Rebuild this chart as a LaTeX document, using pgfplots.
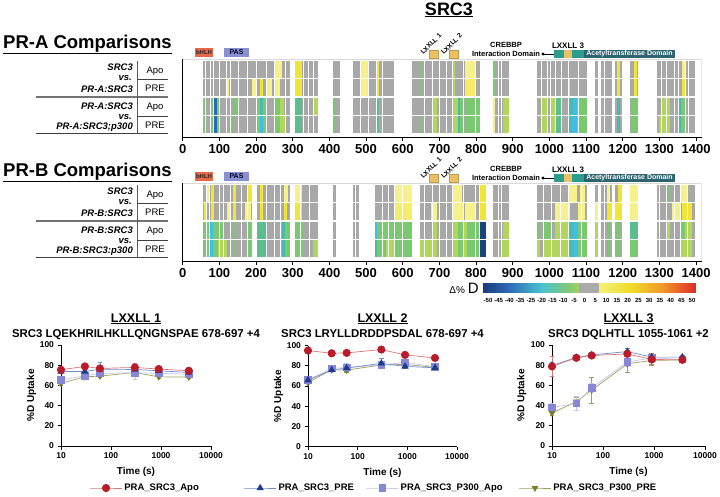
\documentclass[border=0pt]{standalone}
\usepackage{pgfplots}
\pgfplotsset{compat=1.18}
\usepackage{fontspec}
\setmainfont{Liberation Sans}
\newcommand\fs[1]{\fontsize{#1}{#1}\selectfont}
% heatmap colours
\definecolor{hg}{RGB}{168,168,168}
\definecolor{hly}{RGB}{246,241,140}
\definecolor{hym}{RGB}{245,237,105}
\definecolor{hy}{RGB}{241,230,55}
\definecolor{hgr}{RGB}{122,200,112}
\definecolor{hlg}{RGB}{176,214,92}
\definecolor{htg}{RGB}{92,190,140}
\definecolor{htl}{RGB}{72,186,178}
\definecolor{hcy}{RGB}{62,190,232}
\definecolor{hbl}{RGB}{40,105,185}
\definecolor{hdb}{RGB}{24,68,128}
% annotation colours
\definecolor{cbhlh}{RGB}{232,104,74}
\definecolor{cpas}{RGB}{138,143,208}
\definecolor{ctan}{RGB}{235,192,98}
\definecolor{cteal}{RGB}{42,157,143}
\definecolor{cdark}{RGB}{44,100,112}
% plot colours
\definecolor{apoM}{RGB}{185,28,40}
\definecolor{apoL}{RGB}{220,120,120}
\definecolor{preM}{RGB}{30,60,140}
\definecolor{preL}{RGB}{110,140,205}
\definecolor{paM}{RGB}{135,135,215}
\definecolor{paL}{RGB}{195,198,242}
\definecolor{ppM}{RGB}{125,125,35}
\definecolor{ppL}{RGB}{160,160,90}

\pgfplotsset{/pgf/number format/assume math mode=true, /pgf/number format/1000 sep={},
 sapo/.style={apoL, line width=0.7pt, mark=*, mark size=3.7pt, mark options={draw=apoM, fill=apoM, solid}},
 spre/.style={preL, line width=0.7pt, mark=triangle*, mark size=3.5pt, mark options={draw=preM, fill=preM, solid}},
 spa/.style={paL, line width=0.7pt, mark=square*, mark size=3.3pt, mark options={draw=paM, fill=paM, solid}},
 spp/.style={ppL, line width=0.7pt, mark=triangle*, mark size=3.2pt, mark options={draw=ppM, fill=ppM, solid, rotate=180}},
 eb/.style={error bars/y dir=both, error bars/y explicit, error bars/error bar style={line width=0.6pt}, error bars/error mark options={rotate=90, mark size=2.2pt, line width=0.6pt}},
 heat/.style={anchor=south west, scale only axis, width=518.9pt, height=77.9pt,
   xmin=0, xmax=1415, ymin=0.34, ymax=4.55, axis lines=left, axis line style={-, line width=0.8pt},
   xtick={0,100,...,1400}, ytick=\empty, tick align=outside, major tick length=4pt,
   xtick style={line width=0.8pt, black}, xticklabel style={font=\bfseries\fs{13}}},
 bot/.style={anchor=south west, scale only axis, height=101pt, xmin=10, xmax=10000,
   ymin=0, ymax=100, axis lines=left, axis line style={-, line width=0.8pt}, tick align=outside,
   xtick={10,100,1000,10000}, xticklabels={10,100,1000,10000}, ytick={0,20,...,100},
   major tick length=3.5pt, tick style={black, line width=0.8pt}, xminorticks=false,
   tick label style={font=\bfseries\fs{8.5}}, clip=false,
   xlabel={Time (s)}, ylabel={\%D Uptake}, label style={font=\bfseries\fs{10}},
   xlabel style={at={(axis description cs:0.5,-0.257)}, anchor=center},
   ylabel style={at={(axis description cs:-0.197,0.5)}, anchor=center}},
}
\newcommand\COV[2]{\addplot[fill=hg,draw=none,forget plot] coordinates {(#1,0.545) (#2,0.545) (#2,4.455) (#1,4.455)};}
\newcommand\RA[3]{\addplot[fill=#3,draw=none,forget plot] coordinates {(#1,3.545) (#2,3.545) (#2,4.455) (#1,4.455)};}
\newcommand\RB[3]{\addplot[fill=#3,draw=none,forget plot] coordinates {(#1,2.545) (#2,2.545) (#2,3.455) (#1,3.455)};}
\newcommand\RC[3]{\addplot[fill=#3,draw=none,forget plot] coordinates {(#1,1.545) (#2,1.545) (#2,2.455) (#1,2.455)};}
\newcommand\RD[3]{\addplot[fill=#3,draw=none,forget plot] coordinates {(#1,0.545) (#2,0.545) (#2,1.455) (#1,1.455)};}
\newcommand\SEP[1]{\addplot[white,line width=0.6pt,forget plot] coordinates {(#1,0.5) (#1,4.5)};}
\newcommand\HGAPS{\addplot[white,line width=1.7pt,forget plot] coordinates {(0,1.5) (1415,1.5)};
 \addplot[white,line width=1.7pt,forget plot] coordinates {(0,2.5) (1415,2.5)};
 \addplot[white,line width=1.7pt,forget plot] coordinates {(0,3.5) (1415,3.5)};
 \draw[black!15,line width=0.5pt] (rel axis cs:0,1) -- (rel axis cs:1,1) -- (rel axis cs:1,0);}

\newcommand\leftblock[3]{%
\begin{scope}[yshift=-#1pt]
 \node[anchor=east,inner sep=0pt,font=\bfseries\itshape\fs{9.5}] at (133pt,-67pt) {SRC3};
 \node[anchor=east,inner sep=0pt,font=\bfseries\itshape\fs{9.5}] at (132pt,-78pt) {vs.};
 \node[anchor=east,inner sep=0pt,font=\bfseries\itshape\fs{9.5}] at (133pt,-89pt) {#2};
 \draw[black!55,line width=1.4pt] (36pt,-97pt) -- (168pt,-97pt);
 \node[anchor=east,inner sep=0pt,font=\bfseries\itshape\fs{9.5}] at (133pt,-106pt) {#2};
 \node[anchor=east,inner sep=0pt,font=\bfseries\itshape\fs{9.5}] at (132pt,-117pt) {vs.};
 \node[anchor=east,inner sep=0pt,font=\bfseries\itshape\fs{9.5}] at (133pt,-127pt) {#3};
 \draw[black!75,line width=0.9pt] (36pt,-133.5pt) -- (168pt,-133.5pt);
 \draw[black!65,line width=0.9pt] (137pt,-61pt) -- (137pt,-133.5pt);
 \draw[black!75,line width=0.7pt] (137pt,-79.5pt) -- (168pt,-79.5pt);
 \draw[black!75,line width=0.7pt] (137pt,-116pt) -- (168pt,-116pt);
 \node[font=\fs{9.5}] at (155pt,-71pt) {Apo};
 \node[font=\fs{9.5}] at (155pt,-88pt) {PRE};
 \node[font=\fs{9.5}] at (155pt,-107pt) {Apo};
 \node[font=\fs{9.5}] at (155pt,-125pt) {PRE};
\end{scope}}

\newcommand\annot[1]{%
\begin{scope}[yshift=-#1pt]
 \fill[cbhlh] (195pt,-48pt) rectangle (213pt,-57pt);
 \node[font=\bfseries\fs{6}, text=black!85, inner sep=0pt] at (204pt,-52.5pt) {bHLH};
 \fill[cpas] (224pt,-48pt) rectangle (249pt,-57pt);
 \node[font=\bfseries\fs{7}, text=black!85!blue, inner sep=0pt] at (236.5pt,-52.5pt) {PAS};
 \filldraw[fill=ctan, draw=ctan!80!black, line width=0.3pt] (429pt,-50pt) rectangle (438pt,-58pt);
 \filldraw[fill=ctan, draw=ctan!80!black, line width=0.3pt] (449pt,-50pt) rectangle (458pt,-58pt);
 \node[rotate=45, font=\bfseries\fs{6.6}, inner sep=0pt] at (431pt,-44pt) {LXXLL 1};
 \node[rotate=45, font=\bfseries\fs{6.6}, inner sep=0pt] at (451.5pt,-44pt) {LXXLL 2};
 \node[align=center, font=\bfseries\fontsize{7.5}{9}\selectfont, inner sep=0pt] at (506pt,-49.5pt) {CREBBP\\Interaction Domain};
 \fill (543pt,-54pt) circle (1.6pt);
 \draw[line width=0.7pt] (543pt,-54pt) -- (555pt,-54pt);
 \fill[cteal] (554pt,-50pt) rectangle (584pt,-58pt);
 \fill[ctan] (564pt,-50pt) rectangle (572pt,-58pt);
 \fill[cdark] (584pt,-50pt) rectangle (675pt,-58pt);
 \node[text=white, font=\bfseries\fs{7}, inner sep=0pt] at (629.5pt,-54pt) {Acetyltransferase Domain};
 \node[font=\bfseries\fs{8}, inner sep=0pt] at (568pt,-45.5pt) {LXXLL 3};
\end{scope}}

\begin{document}
\begin{tikzpicture}
\path[use as bounding box] (0pt,0pt) rectangle (720pt,-496pt);

% titles
\node[anchor=base, font=\bfseries\fs{18}, inner sep=0pt] at (449pt,-15pt) {\underline{SRC3}};
\node[anchor=base west, font=\bfseries\fs{18.5}, inner sep=0pt] at (3pt,-48pt) {\underline{PR-A Comparisons}};
\node[anchor=base west, font=\bfseries\fs{18.5}, inner sep=0pt] at (3pt,-176pt) {\underline{PR-B Comparisons}};

\leftblock{0}{PR-A:SRC3}{PR-A:SRC3;p300}
\leftblock{124}{PR-B:SRC3}{PR-B:SRC3:p300}
\annot{0}
\annot{124}

% ---------------- Heatmap PR-A ----------------
\begin{axis}[heat, at={(182.7pt,-137pt)}]
\COV{55}{293}\COV{306}{370}\COV{411}{429}\COV{464}{575}\COV{625}{811}\COV{847}{890}
\COV{965}{1102}\COV{1124}{1133}\COV{1142}{1170}\COV{1179}{1197}\COV{1220}{1242}\COV{1293}{1397}
% row 1
\RA{252}{270}{hly}\RA{306}{325}{hy}\RA{484}{506}{hly}\RA{527}{536}{hy}\RA{646}{648}{hgr}
\RA{736}{742}{hlg}\RA{770}{797}{hly}\RA{847}{852}{hgr}\RA{1185}{1193}{hy}\RA{1231}{1240}{hy}\RA{1361}{1372}{hly}
% row 2
\RB{120}{127}{hly}\RB{188}{200}{hly}\RB{211}{220}{hy}\RB{231}{243}{hly}\RB{252}{265}{hly}
\RB{306}{325}{hy}\RB{484}{506}{hly}\RB{527}{536}{hy}\RB{646}{648}{hgr}\RB{736}{742}{hlg}
\RB{770}{797}{hym}\RB{847}{852}{hgr}\RB{1052}{1056}{hy}\RB{1185}{1193}{hy}\RB{1231}{1240}{hy}\RB{1361}{1372}{hy}
% row 3
\RC{55}{64}{hgr}\RC{76}{84}{hgr}\RC{84}{93}{hbl}\RC{93}{100}{hgr}\RC{138}{152}{hgr}
\RC{202}{211}{hgr}\RC{211}{218}{htl}\RC{218}{227}{hgr}\RC{252}{265}{hgr}\RC{265}{276}{hlg}
\RC{306}{325}{htg}\RC{355}{368}{hlg}\RC{411}{418}{hgr}\RC{527}{536}{htg}\RC{679}{693}{hlg}
\RC{736}{750}{hlg}\RC{750}{756}{htl}\RC{756}{766}{hgr}\RC{770}{811}{hgr}\RC{847}{852}{hly}
\RC{874}{890}{hlg}\RC{979}{993}{hlg}\RC{1002}{1015}{hlg}\RC{1015}{1033}{htg}\RC{1052}{1065}{htl}
\RC{1065}{1076}{hcy}\RC{1076}{1102}{hgr}\RC{1185}{1193}{htl}\RC{1225}{1242}{hgr}\RC{1306}{1329}{hlg}
\RC{1352}{1358}{htl}\RC{1358}{1370}{hgr}
% row 4
\RD{55}{64}{hgr}\RD{76}{84}{hgr}\RD{84}{93}{hbl}\RD{93}{100}{hgr}\RD{129}{138}{hgr}
\RD{202}{211}{hgr}\RD{211}{218}{hcy}\RD{218}{227}{hgr}\RD{252}{265}{hgr}\RD{265}{279}{hlg}
\RD{306}{325}{htg}\RD{411}{418}{hgr}\RD{527}{536}{htg}\RD{646}{648}{hgr}\RD{679}{693}{hlg}
\RD{736}{750}{hlg}\RD{750}{756}{htl}\RD{756}{766}{hgr}\RD{770}{811}{hgr}\RD{847}{852}{hly}
\RD{874}{890}{hlg}\RD{979}{993}{hlg}\RD{1002}{1015}{hlg}\RD{1015}{1033}{htg}\RD{1052}{1062}{htl}
\RD{1062}{1076}{hcy}\RD{1076}{1102}{hgr}\RD{1185}{1193}{htl}\RD{1225}{1242}{hgr}\RD{1300}{1329}{hlg}
\RD{1352}{1358}{htl}\RD{1358}{1370}{hgr}
% separators
\SEP{62}\SEP{76}\SEP{84}\SEP{100}\SEP{120}\SEP{129}\SEP{152}\SEP{175}\SEP{202}\SEP{227}
\SEP{250}\SEP{279}\SEP{330}\SEP{343}\SEP{355}\SEP{484}\SEP{506}\SEP{527}\SEP{545}\SEP{660}
\SEP{680}\SEP{700}\SEP{720}\SEP{736}\SEP{765}\SEP{797}\SEP{860}\SEP{870}\SEP{979}\SEP{993}
\SEP{1002}\SEP{1015}\SEP{1033}\SEP{1052}\SEP{1080}\SEP{1150}\SEP{1306}\SEP{1320}\SEP{1340}
\SEP{1352}\SEP{1370}\SEP{1380}
\HGAPS
\end{axis}

% ---------------- Heatmap PR-B ----------------
\begin{axis}[heat, at={(182.7pt,-261pt)}]
\COV{55}{188}\COV{202}{293}\COV{306}{370}\COV{411}{418}\COV{464}{482}\COV{525}{575}\COV{579}{625}
\COV{647}{827}\COV{847}{890}\COV{965}{1102}\COV{1124}{1133}\COV{1142}{1170}\COV{1179}{1199}
\COV{1220}{1242}\COV{1293}{1397}
% row 1
\RA{66}{73}{hly}\RA{76}{84}{hy}\RA{138}{145}{hy}\RA{179}{188}{hy}\RA{211}{220}{hy}\RA{275}{288}{hly}
\RA{306}{325}{hly}\RA{579}{625}{hly}\RA{736}{761}{hly}\RA{811}{827}{hy}\RA{1052}{1075}{hly}
\RA{1083}{1097}{hly}\RA{1156}{1165}{hly}\RA{1188}{1197}{hy}\RA{1220}{1242}{hly}\RA{1320}{1329}{hgr}
\RA{1356}{1374}{hly}
% row 2
\RB{58}{64}{hy}\RB{76}{84}{hy}\RB{120}{129}{hly}\RB{138}{145}{hy}\RB{170}{185}{hly}\RB{211}{220}{hy}
\RB{275}{284}{hy}\RB{306}{325}{hy}\RB{579}{625}{hym}\RB{677}{693}{hly}\RB{736}{765}{hly}
\RB{770}{797}{hly}\RB{811}{827}{hy}\RB{1015}{1056}{hly}\RB{1079}{1097}{hly}\RB{1124}{1133}{hly}
\RB{1156}{1170}{hy}\RB{1179}{1197}{hy}\RB{1220}{1242}{hly}\RB{1333}{1356}{hly}\RB{1361}{1388}{hy}
% row 3
\RC{55}{75}{hgr}\RC{75}{82}{hcy}\RC{82}{111}{hgr}\RC{138}{145}{hgr}\RC{175}{188}{hgr}
\RC{202}{229}{htg}\RC{270}{280}{htl}\RC{280}{293}{hgr}\RC{306}{329}{hgr}\RC{525}{529}{hcy}
\RC{529}{575}{hgr}\RC{579}{625}{hgr}\RC{679}{693}{hlg}\RC{736}{752}{hlg}\RC{752}{765}{hgr}
\RC{765}{774}{hlg}\RC{774}{809}{hgr}\RC{811}{827}{hdb}\RC{874}{890}{hlg}\RC{965}{974}{hgr}
\RC{983}{1006}{hgr}\RC{1015}{1052}{hlg}\RC{1052}{1065}{htl}\RC{1065}{1079}{hcy}\RC{1079}{1102}{hgr}
\RC{1124}{1133}{hlg}\RC{1156}{1165}{hgr}\RC{1179}{1193}{hgr}\RC{1220}{1242}{htg}\RC{1320}{1329}{hlg}
\RC{1356}{1370}{hgr}\RC{1370}{1388}{hlg}
% row 4
\RD{55}{75}{hgr}\RD{75}{82}{hcy}\RD{82}{97}{hgr}\RD{97}{120}{hlg}\RD{138}{145}{hgr}\RD{175}{188}{hgr}
\RD{202}{229}{htg}\RD{270}{280}{htl}\RD{280}{293}{hgr}\RD{306}{329}{hgr}\RD{355}{370}{hlg}
\RD{525}{531}{htl}\RD{531}{555}{hgr}\RD{555}{575}{hlg}\RD{579}{625}{hgr}\RD{647}{693}{hlg}
\RD{736}{752}{hlg}\RD{752}{765}{hgr}\RD{765}{774}{hlg}\RD{774}{809}{hgr}\RD{811}{827}{hdb}
\RD{870}{890}{hlg}\RD{965}{974}{hlg}\RD{983}{1015}{hlg}\RD{1015}{1052}{hlg}\RD{1052}{1065}{htl}
\RD{1065}{1079}{hcy}\RD{1079}{1102}{hgr}\RD{1124}{1133}{hlg}\RD{1156}{1165}{hgr}\RD{1179}{1193}{hgr}
\RD{1220}{1242}{hgr}\RD{1356}{1388}{hlg}
% separators
\SEP{64}\SEP{73}\SEP{100}\SEP{111}\SEP{129}\SEP{160}\SEP{175}\SEP{229}\SEP{250}\SEP{265}
\SEP{320}\SEP{345}\SEP{470}\SEP{545}\SEP{560}\SEP{600}\SEP{660}\SEP{680}\SEP{700}\SEP{720}
\SEP{736}\SEP{765}\SEP{797}\SEP{809}\SEP{860}\SEP{870}\SEP{983}\SEP{1006}\SEP{1030}\SEP{1052}
\SEP{1088}\SEP{1150}\SEP{1300}\SEP{1320}\SEP{1340}\SEP{1356}\SEP{1375}
\HGAPS
\end{axis}

% ---------------- colour bar ----------------
\node[inner sep=0pt] at (464pt,-288pt) {{\fs{10}Δ\%} {\fs{15}D}};
\begin{axis}[at={(483pt,-292pt)}, anchor=south west, scale only axis, width=212pt, height=9pt,
  xmin=0, xmax=100, ymin=0, ymax=1, hide axis,
  colormap={dhx}{rgb255(0pt)=(25,60,125) rgb255(12pt)=(45,105,180) rgb255(28pt)=(75,195,205)
    rgb255(40pt)=(130,200,120) rgb255(45.4pt)=(165,210,100) rgb255(45.5pt)=(170,170,170)
    rgb255(54.5pt)=(170,170,170) rgb255(54.6pt)=(245,240,120) rgb255(70pt)=(240,220,40)
    rgb255(85pt)=(240,150,40) rgb255(100pt)=(220,45,40)},
  point meta min=0, point meta max=100]
\addplot[surf, shader=interp, point meta=x, mesh/rows=2] coordinates {
 (0,0) (12,0) (28,0) (40,0) (45.4,0) (45.5,0) (54.5,0) (54.6,0) (70,0) (85,0) (100,0)
 (0,1) (12,1) (28,1) (40,1) (45.4,1) (45.5,1) (54.5,1) (54.6,1) (70,1) (85,1) (100,1)};
\end{axis}
\foreach \l [count=\i from 0] in {-50,-45,-40,-35,-25,-20,-15,-10,-5,0,5,10,15,20,25,30,35,40,45,50}
 {\node[font=\bfseries\fs{6}, inner sep=0pt] at ({488pt+10.74pt*\i},-300pt) {\l};}

% ---------------- uptake plots ----------------
\node[anchor=base, font=\bfseries\fs{12.5}, inner sep=0pt] at (136pt,-322pt) {\underline{LXXLL 1}};
\node[anchor=base, font=\bfseries\fs{11.4}, inner sep=0pt] at (136pt,-337pt) {SRC3 LQEKHRILHKLLQNGNSPAE 678-697 +4};
\node[anchor=base, font=\bfseries\fs{12.5}, inner sep=0pt] at (382.5pt,-322pt) {\underline{LXXLL 2}};
\node[anchor=base, font=\bfseries\fs{11.4}, inner sep=0pt] at (382.5pt,-337pt) {SRC3 LRYLLDRDDPSDAL 678-697 +4};
\node[anchor=base, font=\bfseries\fs{12.5}, inner sep=0pt] at (628.5pt,-322pt) {\underline{LXXLL 3}};
\node[anchor=base, font=\bfseries\fs{11.4}, inner sep=0pt] at (628.5pt,-337pt) {SRC3 DQLHTLL 1055-1061 +2};

\begin{axis}[xmode=log, bot, at={(61pt,-446pt)}, width=150pt]
\addplot[spp, eb] coordinates {(10,62)+-(0,1.5) (30,68.5)+-(0,1.5) (60,69.2)+-(0,1.5) (300,72.8)+-(0,2) (900,68.5)+-(0,1.5) (3600,68.2)+-(0,1.5)};
\addplot[spa, eb] coordinates {(10,65.5)+-(0,2) (30,69.5)+-(0,1.5) (60,71.9)+-(0,2) (300,72.5)+-(0,6) (900,71.9)+-(0,1.5) (3600,71.2)+-(0,1.5)};
\addplot[spre, eb] coordinates {(10,73.8)+-(0,2) (30,73.8)+-(0,1.5) (60,76)+-(0,7) (300,75.8)+-(0,6) (900,74.5)+-(0,1.5) (3600,72.8)+-(0,1.5)};
\addplot[sapo, eb] coordinates {(10,75.5)+-(0,2) (30,78.8)+-(0,2) (60,76.8)+-(0,2) (300,77.8)+-(0,4) (900,76.2)+-(0,2) (3600,74.5)+-(0,1.5)};
\end{axis}

\begin{axis}[xmode=log, bot, at={(308pt,-446.5pt)}, width=149pt]
\addplot[spp, eb] coordinates {(10,63.3)+-(0,2) (30,76)+-(0,1.5) (60,75.7)+-(0,2) (300,80.7)+-(0,2) (900,81.3)+-(0,2) (3600,78.3)+-(0,1.5)};
\addplot[spa, eb] coordinates {(10,66)+-(0,4) (30,77.3)+-(0,2) (60,78.3)+-(0,4) (300,80.7)+-(0,2) (900,83.3)+-(0,2) (3600,79)+-(0,1.5)};
\addplot[spre, eb] coordinates {(10,65.7)+-(0,2) (30,75.7)+-(0,1.5) (60,77.7)+-(0,3) (300,82.3)+-(0,5) (900,79.3)+-(0,2) (3600,78)+-(0,1.5)};
\addplot[sapo, eb] coordinates {(10,95)+-(0,1.5) (30,92.3)+-(0,1.5) (60,92.7)+-(0,1.5) (300,96)+-(0,2.5) (900,90.7)+-(0,1.5) (3600,87.7)+-(0,1.5)};
\end{axis}

\begin{axis}[xmode=log, bot, at={(552pt,-446pt)}, width=153pt]
\addplot[spp, eb] coordinates {(10,32.6)+-(0,2) (30,44)+-(0,4) (60,55.4)+-(0,13) (300,81.4)+-(0,8) (900,84.7)+-(0,4) (3600,85.3)+-(0,2)};
\addplot[spa, eb] coordinates {(10,38.1)+-(0,4) (30,42.3)+-(0,7) (60,57.7)+-(0,4) (300,83.1)+-(0,4) (900,87.3)+-(0,3) (3600,85.7)+-(0,2)};
\addplot[spre, eb] coordinates {(10,79.8)+-(0,3) (30,87.6)+-(0,1.5) (60,90.2)+-(0,1.5) (300,93.5)+-(0,3) (900,88)+-(0,3) (3600,88)+-(0,2)};
\addplot[sapo, eb] coordinates {(10,78.8)+-(0,10) (30,87.3)+-(0,1.5) (60,89.6)+-(0,1.5) (300,91.2)+-(0,4) (900,85.7)+-(0,6) (3600,85.3)+-(0,2)};
\end{axis}

% ---------------- legend ----------------
\begin{axis}[at={(374pt,-488pt)}, anchor=center, hide axis, scale only axis, width=10pt, height=10pt,
  xmin=0, xmax=1, ymin=0, ymax=1, legend columns=4,
  legend style={at={(0.5,0.5)}, anchor=center, draw=none, fill=none, font=\bfseries\fs{9.5},
    /tikz/column 2/.style={column sep=43pt},
    /tikz/column 4/.style={column sep=10pt},
    /tikz/column 6/.style={column sep=14pt}},
  legend image code/.code={\draw[mark repeat=2,mark phase=2,#1] plot coordinates {(0pt,0pt) (16pt,0pt) (32pt,0pt)};}]
\addlegendimage{sapo}\addlegendentry{PRA\_SRC3\_Apo}
\addlegendimage{spre}\addlegendentry{PRA\_SRC3\_PRE}
\addlegendimage{spa}\addlegendentry{PRA\_SRC3\_P300\_Apo}
\addlegendimage{spp}\addlegendentry{PRA\_SRC3\_P300\_PRE}
\end{axis}
\end{tikzpicture}
\end{document}
